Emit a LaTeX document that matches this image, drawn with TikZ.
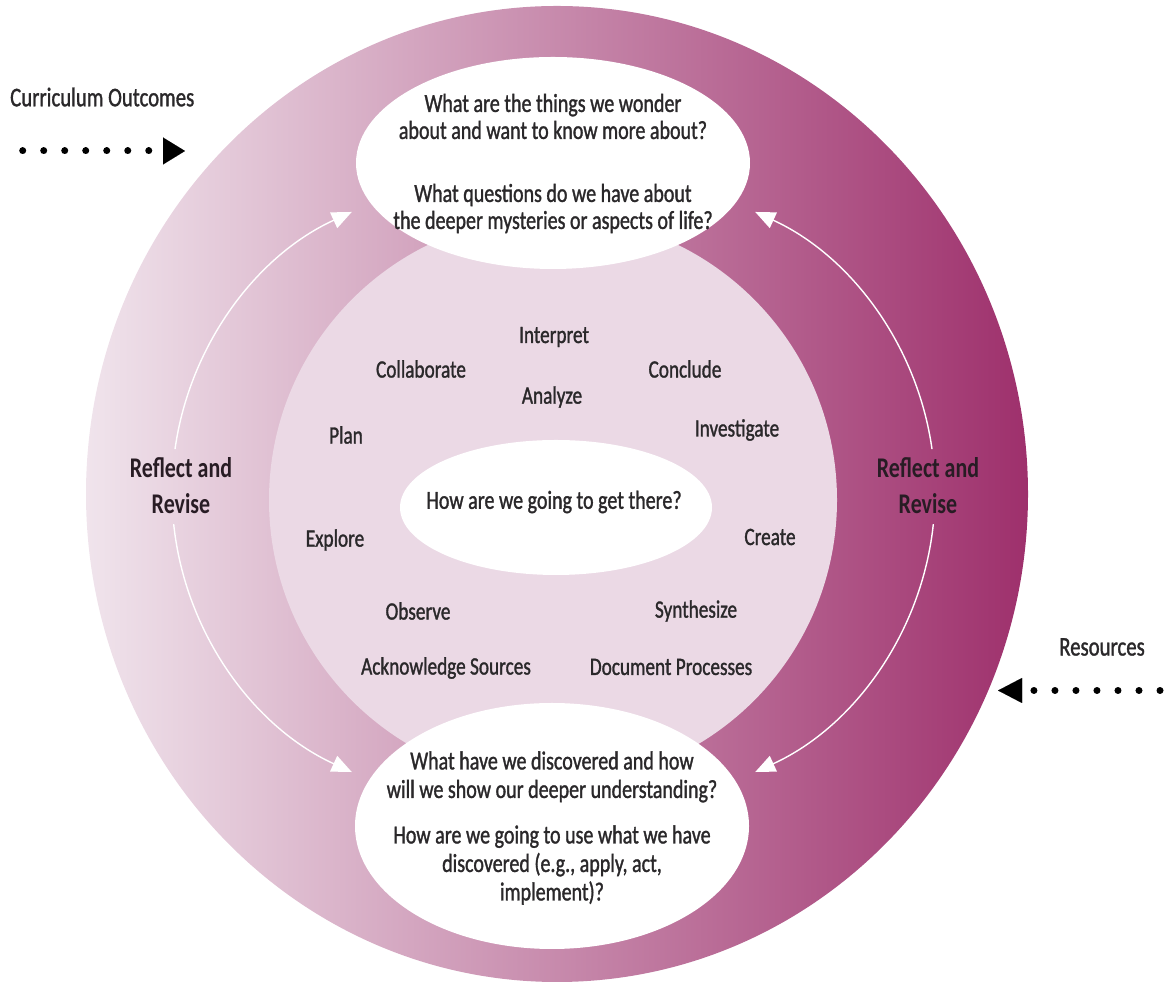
\documentclass[tikz,border=0pt]{standalone}
\usepackage{fontspec}
\setmainfont{Carlito}[FakeStretch=0.77, UprightFeatures={FakeBold=1.2}]
\usetikzlibrary{shapes.geometric,arrows.meta}
\definecolor{ringL}{RGB}{240,228,236}
\definecolor{ringR}{RGB}{158,48,108}
\definecolor{innerpink}{RGB}{235,217,229}
\definecolor{txt}{RGB}{42,40,42}
\definecolor{rrc}{RGB}{40,28,36}
\begin{document}
\begin{tikzpicture}[x=1pt,y=1pt,
  blob/.style={ellipse, fill=white, draw=none, inner sep=0pt},
  qtext/.style={text=txt, align=center, inner sep=0pt, font=\fontsize{26}{27}\selectfont},
  word/.style={text=txt, inner sep=0pt, font=\fontsize{25}{28}\selectfont},
  rrtext/.style={text=rrc, align=center, inner sep=0pt, font=\bfseries\fontsize{28.5}{36}\selectfont},
  sidetext/.style={text=txt, inner sep=0pt, font=\fontsize{27}{30}\selectfont},
  cycarrow/.style={draw=white, line width=1.4pt, -{Triangle[length=20pt,width=17pt,fill=white]}},
  dotline/.style={draw=black, line width=7pt, line cap=round, dash pattern=on 0.01pt off 21pt}]
\useasboundingbox (0,0) rectangle (1164,984);
% outer ring and inner disc
\shade[left color=ringL, right color=ringR] (557,490) ellipse[x radius=471, y radius=488];
\fill[innerpink] (553,484) circle[radius=284];
% reflect-and-revise cycle arrows
\coordinate (Lc) at (480,492);
\coordinate (Rc) at (627,492);
\draw[cycarrow] (Lc) ++(172:308) arc[start angle=172, end angle=114.6, radius=308];
\draw[cycarrow] (Lc) ++(186:308) arc[start angle=186, end angle=245.4, radius=308];
\draw[cycarrow] (Rc) ++(8:308) arc[start angle=8, end angle=65.4, radius=308];
\draw[cycarrow] (Rc) ++(-6:308) arc[start angle=-6, end angle=-65.4, radius=308];
% white ellipses
\node[blob, minimum width=394pt, minimum height=212pt] (top) at (553,821) {};
\node[blob, minimum width=394pt, minimum height=246pt] (bot) at (552,158) {};
\node[blob, minimum width=312pt, minimum height=135pt] (mid) at (556,476.5) {};
% question texts
\node[qtext] (topq) at (553,820.5) {What are the things we wonder\\about and want to know more about?\\[36pt]What questions do we have about\\the deeper mysteries or aspects of life?};
\node[qtext, font=\fontsize{26}{28.5}\selectfont] (botq) at (552,156) {What have we discovered and how\\will we show our deeper understanding?\\[17pt]How are we going to use what we have\\discovered (e.g., apply, act,\\implement)?};
\node[qtext] (midq) at (554,482) {How are we going to get there?};
% process words
\node[word] (w1) at (554,647) {Interpret};
\node[word] (w2) at (421,615) {Collaborate};
\node[word] (w3) at (552,587) {Analyze};
\node[word] (w4) at (685,615) {Conclude};
\node[word] (w5) at (346,549) {Plan};
\node[word] (w6) at (737,554) {Investigate};
\node[word] (w7) at (335,444) {Explore};
\node[word] (w8) at (770,447) {Create};
\node[word] (w9) at (418,373) {Observe};
\node[word] (w10) at (696,373) {Synthesize};
\node[word] (w11) at (446,316) {Acknowledge Sources};
\node[word] (w12) at (671,317) {Document Processes};
% reflect and revise
\node[rrtext] (rrL) at (181,498) {Reflect and\\Revise};
\node[rrtext] (rrR) at (928,498) {Reflect and\\Revise};
% side inputs
\node[sidetext, anchor=west] (cur) at (10,887) {Curriculum Outcomes};
\coordinate (curS) at (22.7,833);
\coordinate (curE) at (185,833);
\draw[dotline, -{Triangle[length=22pt,width=27pt,line width=0.01pt]}] (curS) -- (curE);
\node[sidetext] (res) at (1102,337) {Resources};
\coordinate (resS) at (1160,293.5);
\coordinate (resE) at (998,293.5);
\draw[dotline, -{Triangle[length=24pt,width=25pt,line width=0.01pt]}] (resS) -- (resE);
\end{tikzpicture}
\end{document}
